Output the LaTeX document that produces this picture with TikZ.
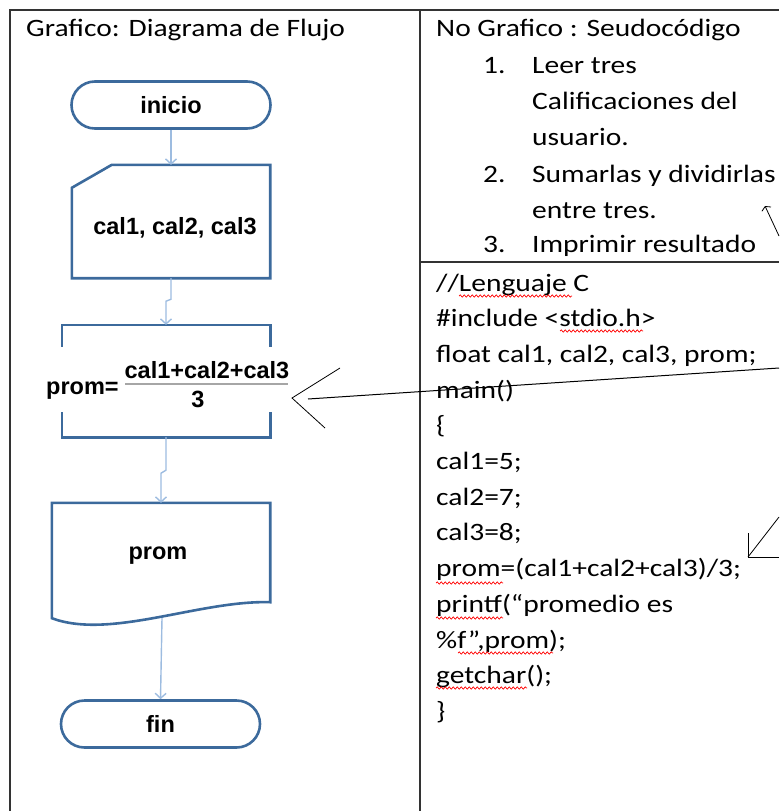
\documentclass[tikz,border=0pt]{standalone}
\usepackage{fontspec}
\usetikzlibrary{arrows.meta,shapes.misc,decorations.pathmorphing,calc}
\newfontfamily\calibrifont{Carlito}[FakeStretch=1.18]
\newfontfamily\arialfont{Liberation Sans}
\definecolor{shapeblue}{HTML}{3C6A9C}
\definecolor{connblue}{HTML}{9DBCE0}
\definecolor{gridgray}{HTML}{333333}
\begin{document}
\begin{tikzpicture}[x=1pt,y=-1pt,
  grid/.style={draw=gridgray, line width=1.8pt},
  fshape/.style={draw=shapeblue, line width=2.6pt, line join=miter},
  term/.style={rounded rectangle, fshape, minimum width=199pt, minimum height=47pt, inner sep=0pt, font=\arialfont\bfseries\fontsize{23.5}{27}\selectfont},
  anchorbox/.style={rectangle, draw=none, inner sep=0pt},
  conn/.style={draw=connblue, line width=1.4pt, -{Straight Barb[length=5pt,width=11pt]}},
  flowtext/.style={inner sep=0pt, anchor=base, font=\arialfont\bfseries\fontsize{23.5}{27}\selectfont},
  doctext/.style={inner sep=0pt, anchor=base west, font=\calibrifont\fontsize{25}{30}\selectfont},
  pointer/.style={draw=black, line width=1pt},
  spell/.style={draw=red, line width=0.7pt, decorate, decoration={snake, amplitude=1.1pt, segment length=4pt}}
]
\useasboundingbox (0,0) rectangle (779,811);

% table
\draw[grid] (10,811) -- (10,10) -- (779,10);
\draw[grid] (420,10) -- (420,811);
\draw[grid] (420,262) -- (779,262);

% titles
\node[doctext] (t-left) at (26,36) {Grafico: Diagrama de Flujo};
\node[doctext] (t-ng) at (436,36) {No Grafico : Seudocódigo};

% pseudocode
\node[doctext] (n1) at (483,73) {1.};
\node[doctext] (i1a) at (532,73) {Leer tres};
\node[doctext] (i1b) at (532,109) {Calificaciones del};
\node[doctext] (i1c) at (532,145) {usuario.};
\node[doctext] (n2) at (483,182) {2.};
\node[doctext] (i2a) at (532,182) {Sumarlas y dividirlas};
\node[doctext] (i2b) at (532,218) {entre tres.};
\node[doctext] (n3) at (483,252) {3.};
\node[doctext] (i3) at (532,252) {Imprimir resultado};

% C code
\node[doctext] (c1) at (436,291) {//Lenguaje C};
\node[doctext] (c2) at (436,326.7) {\#include <stdio.h>};
\node[doctext] (c3) at (436,362.4) {float cal1, cal2, cal3, prom;};
\node[doctext] (c4) at (436,398.1) {main()};
\node[doctext] (c5) at (436,433.8) {\{};
\node[doctext] (c6) at (436,469.5) {cal1=5;};
\node[doctext] (c7) at (436,505.2) {cal2=7;};
\node[doctext] (c8) at (436,540.9) {cal3=8;};
\node[doctext] (c9) at (436,576.6) {prom=(cal1+cal2+cal3)/3;};
\node[doctext] (c10) at (436,612.3) {printf(“promedio es};
\node[doctext] (c11) at (436,648) {\%f”,prom);};
\node[doctext] (c12) at (436,683.7) {getchar();};
\node[doctext] (c13) at (436,719.4) {\}};

% spell-check underlines
\draw[spell] (459,296) -- (572,296);
\draw[spell] (560,331) -- (643,331);
\draw[spell] (436,583) -- (503,583);
\draw[spell] (436,618) -- (503,618);
\draw[spell] (458,653) -- (553,653);
\draw[spell] (436,688) -- (527,688);

% flowchart shapes
\node[term] (inicio) at (171,105) {inicio};

\node[anchorbox, minimum width=198pt, minimum height=113pt] (entrada) at (171,221.5) {};
\draw[fshape] ($(entrada.north west)+(40,0)$) -- (entrada.north east) -- (entrada.south east)
  -- (entrada.south west) -- ($(entrada.north west)+(0,23)$) -- cycle;
\node[flowtext] (t-entrada) at (175,234) {cal1, cal2, cal3};

\node[anchorbox, minimum width=208pt, minimum height=112pt] (proceso) at (166,381) {};
\draw[fshape] ($(proceso.north west)+(0,22)$) -- (proceso.north west) -- (proceso.north east) -- ($(proceso.north east)+(0,22)$);
\draw[fshape] ($(proceso.south west)+(0,-25)$) -- (proceso.south west) -- (proceso.south east) -- ($(proceso.south east)+(0,-25)$);
\node[flowtext, anchor=base west] (t-prom) at (46,394) {prom=};
\node[flowtext] (t-num) at (207,378) {cal1+cal2+cal3};
\draw[draw=gray!70, line width=2pt] (125,384) -- (288,384);
\node[flowtext] (t-den) at (198,407) {3};

\node[anchorbox, minimum width=218pt, minimum height=99pt] (salida) at (161,552.5) {};
\draw[fshape] (salida.south east) -- (salida.north east) -- (salida.north west) -- ($(salida.south west)+(0,16)$)
  .. controls (110,640) and (200,600) .. (salida.south east) -- cycle;
\node[flowtext] (t-salida) at (158,559) {prom};

\node[term] (fin) at (160.5,724) {fin};

% connectors
\draw[conn] (inicio.south) -- (entrada.north);
\draw[conn] (entrada.south) -- ++(0,21) -- ++(-5,2) -- (proceso.north);
\draw[conn] (proceso.south) -- ++(0,33) -- ++(-5,3) -- (salida.north);
\draw[conn] ($(salida.south)+(1,16)$) -- (fin.north);

% black pointers
\coordinate (pA-start) at (779,368);
\coordinate (pA-tip) at (292,398);
\draw[pointer] (pA-start) -- ($(pA-tip)+(16,1)$);
\draw[pointer, line width=0.8pt] ($(pA-tip)+(48,-30)$) -- (pA-tip) -- ($(pA-tip)+(33,30)$);

\coordinate (pB-tip) at (748,557);
\draw[pointer, line width=0.8pt] (pB-tip) -- (779,517);
\draw[pointer] ($(pB-tip)+(0,-24)$) -- (pB-tip) -- (779,557);

\coordinate (pC-start) at (779,236);
\coordinate (pC-tip) at (765,206);
\draw[pointer, line width=0.8pt, -{Straight Barb[length=3pt,width=10pt]}] (pC-start) -- (pC-tip);
\end{tikzpicture}
\end{document}
